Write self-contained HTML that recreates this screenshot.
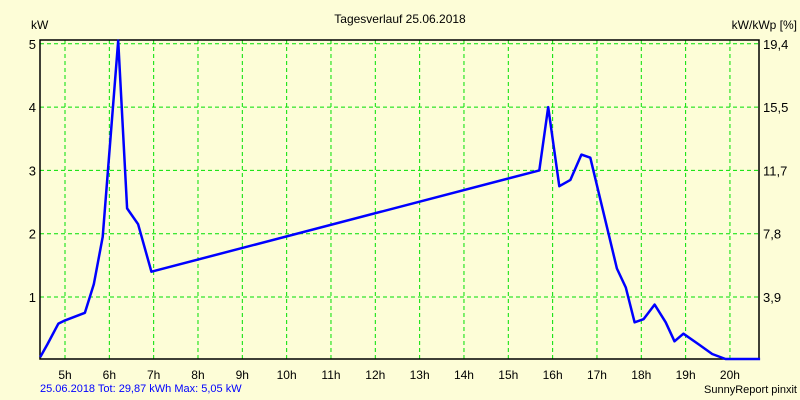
<!DOCTYPE html>
<html><head><meta charset="utf-8"><style>
html,body{margin:0;padding:0;background:#fdfdd7;}
svg{display:block;font-family:"Liberation Sans",sans-serif;font-size:12px;}
</style></head><body>
<svg width="800" height="400">
<rect width="800" height="400" fill="#fdfdd7"/>
<text x="400" y="23" text-anchor="middle" fill="#000">Tagesverlauf 25.06.2018</text>
<text x="31" y="29" fill="#000">kW</text>
<text x="797" y="29" text-anchor="end" fill="#000">kW/kWp [%]</text>
<g id="grid"></g>
<g id="axes"></g>
<polyline id="line" fill="none" stroke="#0000ff" stroke-width="2.5" stroke-linejoin="round"/>
<text x="40" y="392" fill="#0000ff" font-size="11">25.06.2018 Tot: 29,87 kWh Max: 5,05 kW</text>
<text x="797" y="393" text-anchor="end" fill="#000" font-size="11">SunnyReport pinxit</text>
</svg>
<script>
const hours=[4.44,4.6,4.85,5.0,5.45,5.65,5.85,6.2,6.4,6.65,6.95,15.7,15.9,16.15,16.4,16.65,16.85,17.45,17.65,17.85,18.05,18.3,18.55,18.75,18.95,19.3,19.6,19.9,20.68];
const kw=[0.05,0.25,0.58,0.63,0.75,1.2,1.95,5.05,2.4,2.15,1.4,3.0,4.0,2.75,2.85,3.25,3.2,1.45,1.15,0.6,0.65,0.88,0.6,0.3,0.42,0.25,0.1,0.02,0];
const xTicks=[5,6,7,8,9,10,11,12,13,14,15,16,17,18,19,20];
const yTicks=[1,2,3,4,5];
const yRightLabels=["3,9","7,8","11,7","15,5","19,4"];
const NS="http://www.w3.org/2000/svg";
const L=40,R=759,T=40,B=359;
const x=h=>65+44.33*(h-5);
const y=v=>360.3-63.3*v;
const grid=document.getElementById('grid'),axes=document.getElementById('axes');
function mk(tag,attrs,parent){const e=document.createElementNS(NS,tag);for(const k in attrs)e.setAttribute(k,attrs[k]);parent.appendChild(e);return e;}
xTicks.forEach(h=>{
  const l=mk('line',{x1:x(h),x2:x(h),y1:T,y2:B,stroke:'#00e000','stroke-dasharray':'4,3'},grid);
  
  
  const t=mk('text',{x:x(h),y:379,'text-anchor':'middle',fill:'#000'},axes);
  t.textContent=h+'h';
  
  
});
yTicks.forEach((v,i)=>{
  const l=mk('line',{x1:L,x2:R,y1:y(v),y2:y(v),stroke:'#00e000','stroke-dasharray':'4,3'},grid);
  
  
  const t=mk('text',{x:36,y:y(v)+5,'text-anchor':'end',fill:'#000','font-size':'13'},axes);
  t.textContent=v;
  
  
  const t2=mk('text',{x:763,y:y(v)+5,fill:'#000','font-size':'13'},axes);
  t2.textContent=yRightLabels[i];
  
  
});
const f=mk('path',{d:`M${L},${T}H${R}V${B}H${L}Z`,fill:'none',stroke:'#000','stroke-width':'1.5'},axes);


document.getElementById('line').setAttribute('points',hours.map((h,i)=>x(h).toFixed(1)+','+Math.min(B,y(kw[i])).toFixed(1)).join(' '));
</script>
</body></html>
